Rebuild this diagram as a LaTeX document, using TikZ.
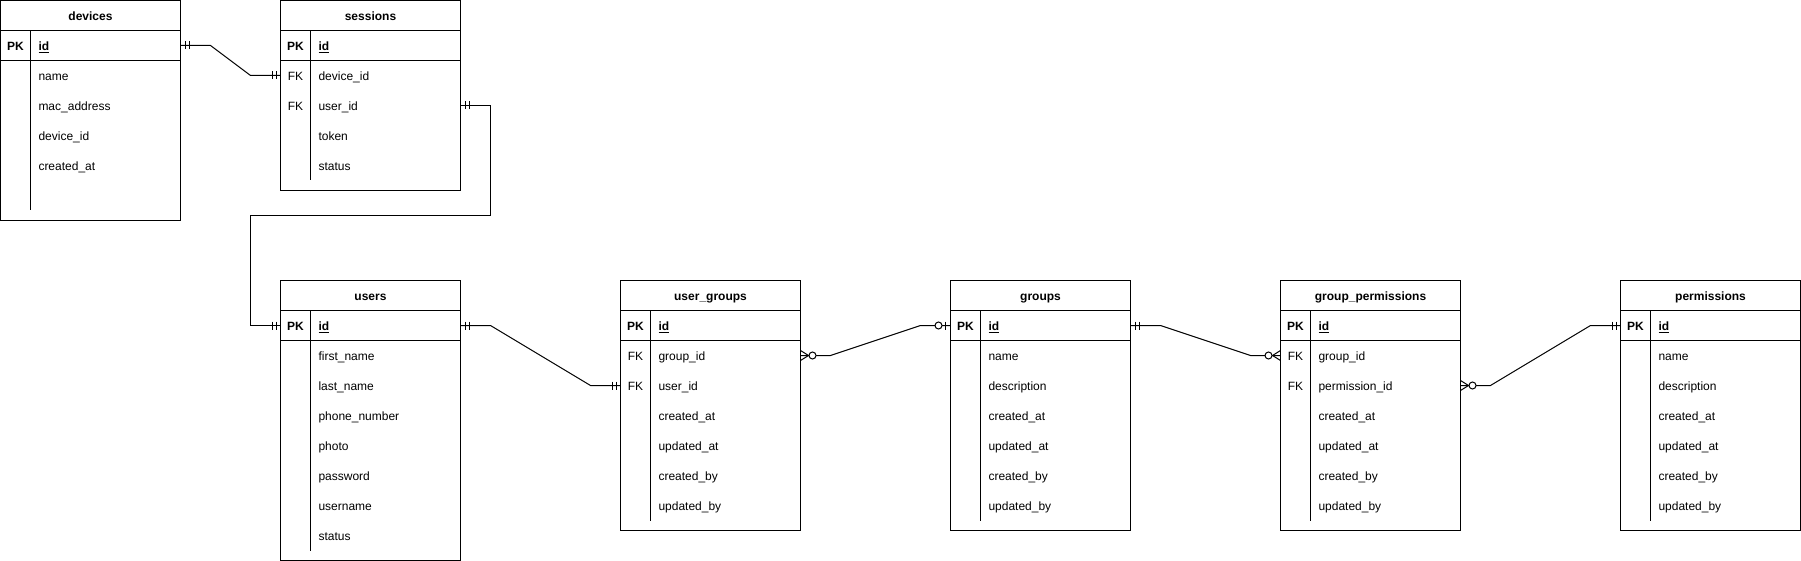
\documentclass[tikz,border=0pt]{standalone}
\usepackage{fontspec}
\setmainfont{Liberation Sans}

\newcommand{\erdsize}{\fontsize{12pt}{14pt}\selectfont}

\tikzset{
tbox/.style     = {draw, rectangle, anchor=north west, minimum width=180pt, inner sep=0pt, outer sep=0pt},
thead/.style    = {rectangle, anchor=north west, minimum width=180pt, minimum height=30pt, inner sep=0pt, outer sep=0pt, text height=12pt, text depth=2pt, font=\erdsize\bfseries},
trow/.style     = {rectangle, anchor=north west, minimum width=180pt, minimum height=30pt, inner sep=0pt, outer sep=0pt},
tkey/.style     = {inner sep=0pt, outer sep=0pt, text height=12pt, text depth=2pt},
tfield/.style   = {inner sep=0pt, outer sep=0pt, anchor=west, text height=12pt, text depth=2pt},
mandone/.pic    = {\draw (-4.5,-4) -- (-4.5,4) (-8.5,-4) -- (-8.5,4);},
zeroone/.pic    = {\draw (-5,-4) -- (-5,4); \draw[fill=white] (-12,0) circle[radius=3.5];},
zeromany/.pic   = {\draw (0,-5) -- (-8,0) -- (0,5); \draw[fill=white] (-12,0) circle[radius=3.5];},
}

% name, top left corner, title, rows below PK, rows
\newcommand{\erdtable}[5]{%
  \pgfmathsetmacro{\tblheight}{30*#4+70}
  \node[tbox, minimum height=\tblheight pt] (#1) at (#2) {};
  \node[thead] (#1-h) at (#1.north west) {#3};
  \node[trow] (#1-0) at (#1-h.south west) {};
  \node[tkey, font=\erdsize\bfseries] at ([xshift=15pt]#1-0.west) {PK};
  \node[tfield, font=\erdsize\bfseries] at ([xshift=38pt]#1-0.west) {\underline{id}};
  \draw (#1-h.south west) -- (#1-h.south east) (#1-0.south west) -- (#1-0.south east);
  \draw ([xshift=30pt]#1-h.south west) -- ++(0,30*#4+30);
  \foreach \k/\f [count=\i] in {#5} {
    \node[trow] (#1-\i) at ([yshift=-30*\i+30]#1-0.south west) {};
    \node[tkey] at ([xshift=15pt]#1-\i.west) {\k};
    \node[tfield] at ([xshift=38pt]#1-\i.west) {\f};
  }
}

\begin{document}
\begin{tikzpicture}[x=1pt, y=-1pt, line width=1pt, font=\erdsize]
    \useasboundingbox (0,0) rectangle (1801,561);

    \erdtable{devices}{0.5,0.5}{devices}{5}{/name, /mac\_address, /device\_id, /created\_at}
    \erdtable{sessions}{280.5,0.5}{sessions}{4}{FK/device\_id, FK/user\_id, /token, /status}
    \erdtable{users}{280.5,280.5}{users}{7}{/first\_name, /last\_name, /phone\_number, /photo, /password, /username, /status}
    \erdtable{usergroups}{620.5,280.5}{user\_groups}{6}{FK/group\_id, FK/user\_id, /created\_at, /updated\_at, /created\_by, /updated\_by}
    \erdtable{groups}{950.5,280.5}{groups}{6}{/name, /description, /created\_at, /updated\_at, /created\_by, /updated\_by}
    \erdtable{grouppermissions}{1280.5,280.5}{group\_permissions}{6}{FK/group\_id, FK/permission\_id, /created\_at, /updated\_at, /created\_by, /updated\_by}
    \erdtable{permissions}{1620.5,280.5}{permissions}{6}{/name, /description, /created\_at, /updated\_at, /created\_by, /updated\_by}

    \draw (devices-0.east) -- ++(30,0) -- ([xshift=-30pt]sessions-1.west) -- (sessions-1.west);
    \draw (sessions-2.east) -- ++(30,0) -- ++(0,110) -| ([xshift=-30pt]users-0.west) -- (users-0.west);
    \draw (users-0.east) -- ++(30,0) -- ([xshift=-30pt]usergroups-2.west) -- (usergroups-2.west);
    \draw (usergroups-1.east) -- ++(30,0) -- ([xshift=-30pt]groups-0.west) -- (groups-0.west);
    \draw (groups-0.east) -- ++(30,0) -- ([xshift=-30pt]grouppermissions-1.west) -- (grouppermissions-1.west);
    \draw (grouppermissions-2.east) -- ++(30,0) -- ([xshift=-30pt]permissions-0.west) -- (permissions-0.west);

    \pic[xscale=-1] at (devices-0.east) {mandone};
    \pic at (sessions-1.west) {mandone};
    \pic[xscale=-1] at (sessions-2.east) {mandone};
    \pic at (users-0.west) {mandone};
    \pic[xscale=-1] at (users-0.east) {mandone};
    \pic at (usergroups-2.west) {mandone};
    \pic[xscale=-1] at (usergroups-1.east) {zeromany};
    \pic at (groups-0.west) {zeroone};
    \pic[xscale=-1] at (groups-0.east) {mandone};
    \pic at (grouppermissions-1.west) {zeromany};
    \pic[xscale=-1] at (grouppermissions-2.east) {zeromany};
    \pic at (permissions-0.west) {mandone};
\end{tikzpicture}
\end{document}
